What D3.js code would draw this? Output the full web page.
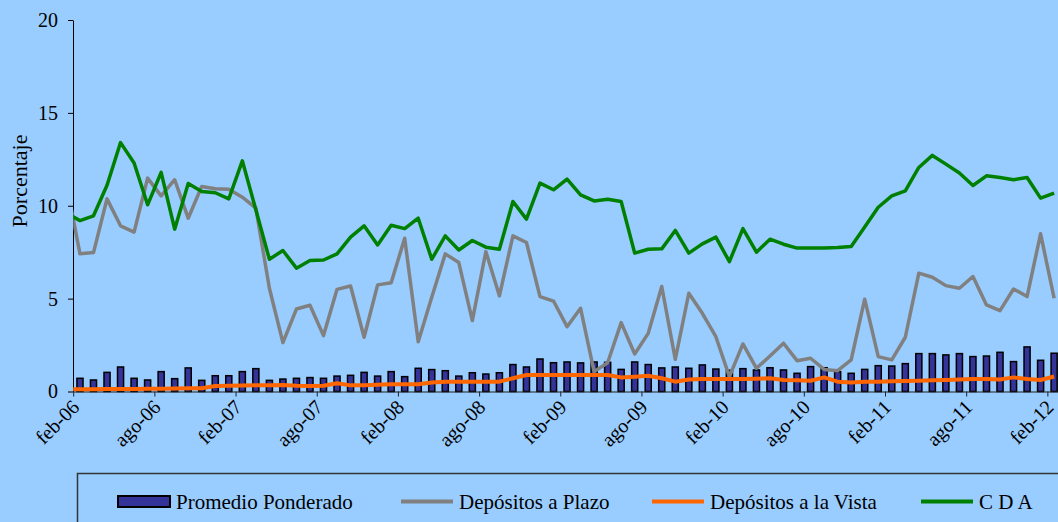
<!DOCTYPE html>
<html><head><meta charset="utf-8">
<script src="https://cdn.jsdelivr.net/npm/d3@7"></script>
<style>html,body{margin:0;padding:0;background:#99CCFF;overflow:hidden}</style>
</head><body>
<svg id="chart" width="1058" height="522"></svg>
<script>
const months = ["feb-06","mar-06","abr-06","may-06","jun-06","jul-06","ago-06","sep-06","oct-06","nov-06","dic-06","ene-07",
"feb-07","mar-07","abr-07","may-07","jun-07","jul-07","ago-07","sep-07","oct-07","nov-07","dic-07","ene-08",
"feb-08","mar-08","abr-08","may-08","jun-08","jul-08","ago-08","sep-08","oct-08","nov-08","dic-08","ene-09",
"feb-09","mar-09","abr-09","may-09","jun-09","jul-09","ago-09","sep-09","oct-09","nov-09","dic-09","ene-10",
"feb-10","mar-10","abr-10","may-10","jun-10","jul-10","ago-10","sep-10","oct-10","nov-10","dic-10","ene-11",
"feb-11","mar-11","abr-11","may-11","jun-11","jul-11","ago-11","sep-11","oct-11","nov-11","dic-11","ene-12","feb-12"];
const tickMonths = ["feb-06","ago-06","feb-07","ago-07","feb-08","ago-08","feb-09","ago-09","feb-10","ago-10","feb-11","ago-11","feb-12"];
const yTicks = [0,5,10,15,20];

const promedio = [0.71,0.62,1.03,1.32,0.71,0.62,1.07,0.69,1.27,0.60,0.85,0.85,
1.07,1.23,0.60,0.67,0.71,0.75,0.71,0.83,0.87,1.03,0.83,1.07,
0.80,1.25,1.18,1.12,0.83,1.01,0.94,1.01,1.45,1.32,1.75,1.55,
1.59,1.54,1.59,1.57,1.19,1.59,1.45,1.27,1.32,1.25,1.43,1.21,
1.14,1.23,1.16,1.28,1.16,0.98,1.34,1.28,1.07,0.98,1.19,1.39,
1.37,1.50,2.04,2.04,1.97,2.04,1.88,1.91,2.11,1.61,2.40,1.68,2.06];
const plazo = [7.41,7.48,10.37,8.92,8.58,11.49,10.53,11.40,9.33,11.04,10.91,10.89,
10.46,9.87,5.56,2.63,4.44,4.64,3.01,5.50,5.68,2.92,5.74,5.86,
8.25,2.68,5.07,7.41,6.94,3.82,7.53,5.15,8.38,8.02,5.11,4.87,
3.49,4.48,1.07,1.55,3.71,2.02,3.13,5.65,1.73,5.29,4.21,2.95,
0.80,2.56,1.25,1.91,2.60,1.66,1.79,1.19,1.12,1.70,4.97,1.88,
1.70,2.92,6.37,6.15,5.70,5.56,6.19,4.66,4.35,5.52,5.11,8.49,5.02];
const vista = [0.12,0.12,0.13,0.13,0.14,0.15,0.15,0.16,0.17,0.18,0.30,0.31,
0.32,0.33,0.33,0.35,0.31,0.30,0.31,0.44,0.33,0.34,0.37,0.39,
0.39,0.39,0.49,0.53,0.53,0.53,0.53,0.53,0.71,0.89,0.89,0.89,
0.89,0.89,0.89,0.89,0.76,0.80,0.85,0.71,0.53,0.65,0.67,0.67,
0.67,0.67,0.69,0.71,0.62,0.60,0.58,0.76,0.53,0.49,0.53,0.53,
0.55,0.56,0.58,0.60,0.62,0.65,0.67,0.67,0.65,0.76,0.67,0.62,0.81];
const cda = [9.20,9.46,11.10,13.40,12.30,10.05,11.80,8.74,11.20,10.77,10.70,10.37,
12.42,9.78,7.12,7.59,6.64,7.05,7.08,7.41,8.31,8.92,7.89,8.95,
8.77,9.33,7.12,8.38,7.62,8.13,7.77,7.66,10.23,9.28,11.22,10.86,
11.43,10.59,10.26,10.35,10.23,7.45,7.66,7.68,8.67,7.45,7.95,8.31,
6.99,8.77,7.50,8.20,7.93,7.72,7.72,7.72,7.75,7.80,8.85,9.92,
10.53,10.80,12.06,12.71,12.24,11.76,11.09,11.61,11.52,11.40,11.52,10.41,10.68];
// preceding month (ene-06): only visible as a short clipped stub at the left axis
const prevMonth = "ene-06";
const prevPlazo = 11.2, prevVista = 0.12, prevCda = 9.6;
const legendLabels = ["Promedio Ponderado","Depósitos a Plazo","Depósitos a la Vista","C D A"];
const lineColors = ["#808080","#FF6600","#008000"];

const FONT = "'Liberation Serif','Times New Roman',serif";
const svg = d3.select("#chart");
svg.append("rect").attr("width",1058).attr("height",522).attr("fill","#99CCFF");

const left = 73.2, step = 13.53, right = left + step*months.length;
const x = d3.scaleBand().domain(months).range([left,right]).paddingInner(0.55).paddingOuter(0.275);
const y = d3.scaleLinear().domain([0,20]).range([391.5,20]);
const xi = d3.scaleLinear().domain([0, months.length-1])
  .range([x(months[0]) + x.bandwidth()/2, x(months[months.length-1]) + x.bandwidth()/2]);
const xb = d3.scaleLinear().domain([0, months.length]).range([left, right]);

svg.append("clipPath").attr("id","plotclip").append("rect")
  .attr("x",left).attr("y",0).attr("width",right-left).attr("height",522);

// bars
svg.append("g").selectAll("rect").data(promedio).join("rect")
  .attr("x",(d,i)=>x(months[i])).attr("width",x.bandwidth())
  .attr("y",d=>y(d)).attr("height",d=>y(0)-y(d))
  .attr("fill","#333399").attr("stroke","#000").attr("stroke-width",1.5);

// x axis
const xAxis = d3.axisBottom(xb).tickValues(tickMonths.map(m=>months.indexOf(m)))
  .tickFormat(k=>months[k]).tickSize(5).tickSizeOuter(0);
const gx = svg.append("g").attr("transform","translate(0,391.5)").call(xAxis);
gx.select(".domain").attr("stroke","#222").attr("stroke-width",1);
gx.selectAll(".tick line").attr("stroke","#222");
gx.selectAll(".tick text").attr("font-family",FONT).attr("font-size",20).attr("fill","#000")
  .attr("text-anchor","end").attr("x",0).attr("y",0).attr("dy","0.35em")
  .attr("transform","translate(2,12) rotate(-45)");

// y axis
const yAxis = d3.axisLeft(y).tickValues(yTicks).tickSize(5).tickSizeOuter(0).tickPadding(10);
const gy = svg.append("g").attr("transform","translate(73,0)").call(yAxis);
gy.select(".domain").attr("stroke","#000");
gy.selectAll(".tick line").attr("stroke","#000");
gy.selectAll(".tick text").attr("font-family",FONT).attr("font-size",20).attr("fill","#000");

svg.append("text").attr("transform","translate(27,181) rotate(-90)")
  .attr("text-anchor","middle").attr("font-family",FONT).attr("font-size",22).text("Porcentaje");

// lines
const series = [
  [prevPlazo, plazo],
  [prevVista, vista],
  [prevCda, cda]
];
const line = d3.line().x(d=>xi(d.i)).y(d=>y(d.v));
const gl = svg.append("g").attr("clip-path","url(#plotclip)");
series.forEach(([prev, vals], k) => {
  const data = [{i:-1, v:prev}].concat(vals.map((v,i)=>({i, v})));
  gl.append("path").datum(data).attr("d",line).attr("fill","none")
    .attr("stroke",lineColors[k]).attr("stroke-width", k===1 ? 4 : 3.5)
    .attr("stroke-linejoin","round").attr("stroke-linecap","butt");
});

// legend
svg.append("rect").attr("x",77.5).attr("y",473.5).attr("width",1010).attr("height",80)
  .attr("fill","none").attr("stroke","#333").attr("stroke-width",1.5);
const legX = [118, 401, 652, 921];
legendLabels.forEach((lab,k)=>{
  const g = svg.append("g");
  if (k===0) {
    g.append("rect").attr("x",legX[k]).attr("y",496).attr("width",52).attr("height",11)
      .attr("fill","#333399").attr("stroke","#000").attr("stroke-width",2);
  } else {
    g.append("line").attr("x1",legX[k]).attr("x2",legX[k]+52).attr("y1",501.5).attr("y2",501.5)
      .attr("stroke",lineColors[k-1]).attr("stroke-width",4);
  }
  g.append("text").attr("x",legX[k]+58).attr("y",509).attr("font-family",FONT).attr("font-size",21)
    .attr("fill","#000").text(lab);
});
</script>
</body></html>
